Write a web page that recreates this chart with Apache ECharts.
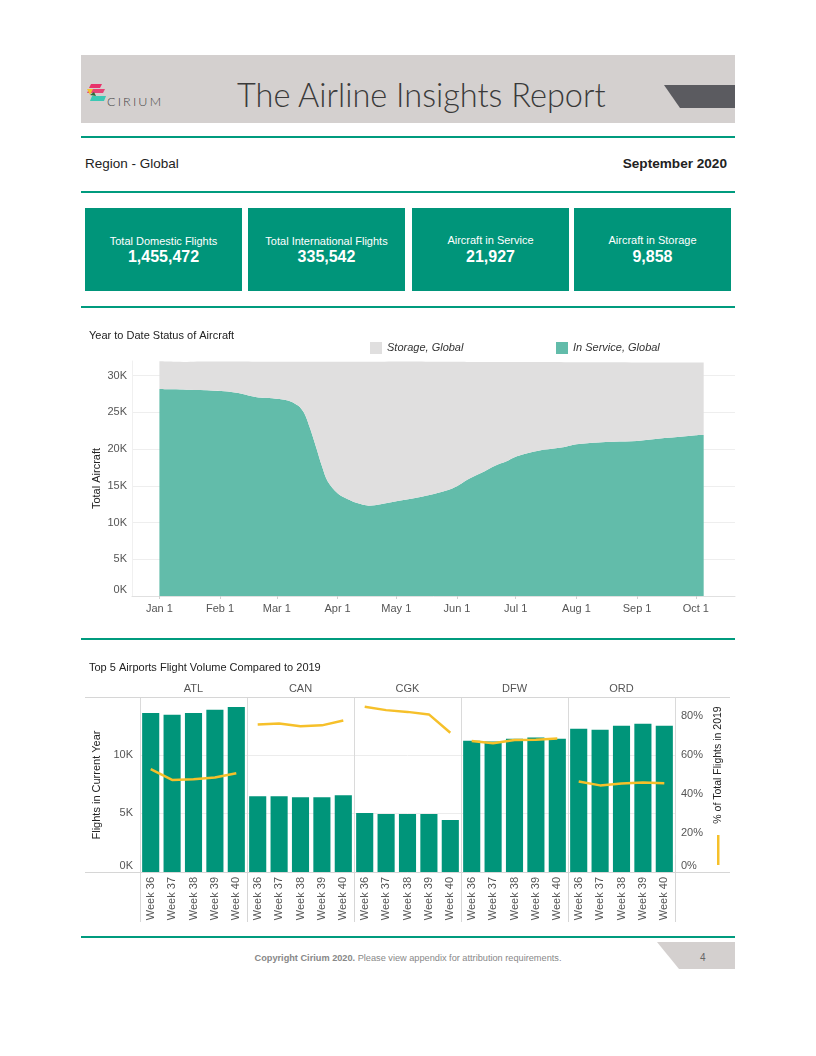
<!DOCTYPE html>
<html><head><meta charset="utf-8">
<script src="https://cdn.jsdelivr.net/npm/echarts@6/dist/echarts.min.js"></script>
<style>
body{margin:0;width:816px;height:1056px;position:relative;background:#fff;font-family:'Liberation Sans',Arial,sans-serif;overflow:hidden}
.abs{position:absolute}
.rule{position:absolute;left:81px;width:654px;height:2px;background:#009b7e}
.kpi{position:absolute;top:208px;height:83px;width:157px;background:#00957a;color:#fff;text-align:center}
.kpi .l{position:absolute;top:27px;left:0;right:0;font-size:11px}
.kpi .v{position:absolute;top:40px;left:0;right:0;font-size:16px;font-weight:bold}
</style></head><body>
<div class="abs" style="left:81px;top:55px;width:654px;height:68px;background:#d4d0cf"></div>
<svg class="abs" style="left:86px;top:83px" width="22" height="20" viewBox="0 0 22 20">
  <polygon points="5,1 16,1 14,5 3,5" fill="#e8336b"/>
  <polygon points="3,6 19,6 17,10 1,10" fill="#e8336b" opacity="0.9"/>
  <polygon points="1,6 7,6 4,12" fill="#f5c12e"/>
  <polygon points="4,12 8,9 10,13" fill="#2f6b3a"/>
  <polygon points="6,13 20,13 18,18 4,18" fill="#3cc8b4"/>
</svg>
<div class="abs" style="left:107px;top:94px;font-family:Lato,sans-serif;font-weight:300;font-size:12.5px;letter-spacing:2.2px;color:#444">CIRIUM</div>
<div class="abs" style="left:237px;top:75px;font-family:Lato,'Open Sans',sans-serif;font-weight:300;font-size:32.5px;color:#3a3a3a;white-space:nowrap">The Airline Insights Report</div>
<svg class="abs" style="left:664px;top:85px" width="71" height="23"><polygon points="0,0 71,0 71,23 16,23" fill="#5b5b60"/></svg>
<div class="rule" style="top:136px"></div>
<div class="abs" style="left:85px;top:156px;font-size:13.5px;color:#222">Region - Global</div>
<div class="abs" style="right:89px;top:156px;font-size:13.6px;font-weight:bold;color:#222">September 2020</div>
<div class="rule" style="top:191px"></div>
<div class="kpi" style="left:85px"><div class="l">Total Domestic Flights</div><div class="v">1,455,472</div></div>
<div class="kpi" style="left:248px"><div class="l">Total International Flights</div><div class="v">335,542</div></div>
<div class="kpi" style="left:412px"><div class="l" style="top:26px">Aircraft in Service</div><div class="v">21,927</div></div>
<div class="kpi" style="left:574px"><div class="l" style="top:26px">Aircraft in Storage</div><div class="v">9,858</div></div>
<div class="rule" style="top:306px"></div>
<div id="c1" class="abs" style="left:80px;top:320px;width:660px;height:305px"></div>
<div class="rule" style="top:638px"></div>
<div id="c2" class="abs" style="left:80px;top:655px;width:660px;height:275px"></div>
<div class="rule" style="top:936px"></div>
<div class="abs" style="left:0;width:816px;top:953px;text-align:center;font-size:9.2px;color:#888"><b>Copyright Cirium 2020.</b> Please view appendix for attribution requirements.</div>
<svg class="abs" style="left:657px;top:942px" width="78" height="27"><polygon points="0,0 78,0 78,27 22,27" fill="#d4d0cf"/></svg>
<div class="abs" style="left:700px;top:952px;font-size:10px;color:#666">4</div>
<script>
// ---- Chart 1 data: Year to Date Status of Aircraft ----
const statusDates = ['2020-01-01','2020-01-08','2020-01-15','2020-01-22','2020-01-29','2020-02-05','2020-02-12','2020-02-19','2020-02-26','2020-03-04','2020-03-08','2020-03-12','2020-03-15','2020-03-18','2020-03-21','2020-03-24','2020-03-27','2020-04-01','2020-04-06','2020-04-11','2020-04-17','2020-04-23','2020-05-01','2020-05-10','2020-05-18','2020-05-27','2020-06-01','2020-06-06','2020-06-13','2020-06-21','2020-06-26','2020-07-01','2020-07-05','2020-07-15','2020-07-26','2020-08-01','2020-08-12','2020-08-20','2020-09-01','2020-09-15','2020-10-01','2020-10-05'];
const inService = [28200,28150,28100,28050,27950,27850,27550,27100,26950,26750,26500,25900,24900,22800,20300,17700,15600,14000,13200,12650,12300,12500,12900,13300,13750,14400,14950,15800,16700,17800,18300,18950,19300,19900,20300,20650,20900,21000,21100,21500,21900,21927];
const storage = [3750,3750,3780,3870,3980,4080,4370,4800,4950,5150,5400,6000,7000,9100,11600,14200,16300,17900,18700,19250,19600,19400,19020,18620,18150,17500,16950,16080,15180,14070,13550,12900,12550,11950,11530,11180,10930,10820,10700,10300,9890,9858];
const monthTickLabels = ['Jan 1','Feb 1','Mar 1','Apr 1','May 1','Jun 1','Jul 1','Aug 1','Sep 1','Oct 1','Nov 1','Dec 1'];

// ---- Chart 2 data: Top 5 Airports ----
const airports = ['ATL','CAN','CGK','DFW','ORD'];
const weeks = ['Week 36','Week 37','Week 38','Week 39','Week 40'];
const flightsATL = [13580,13420,13580,13840,14090];
const flightsCAN = [6470,6470,6380,6380,6550];
const flightsCGK = [5030,4940,4940,4940,4430];
const flightsDFW = [11210,11130,11380,11470,11380];
const flightsORD = [12230,12140,12480,12650,12480];
const pctATL = [52.6,47.1,47.5,48.3,50.5];
const pctCAN = [75.5,76.0,74.6,75.0,77.5];
const pctCGK = [84.5,82.8,81.9,80.6,71.2];
const pctDFW = [67.0,65.8,67.5,67.7,68.3];
const pctORD = [46.3,44.3,45.3,45.8,45.4];

const FONT = "'Liberation Sans', Arial, sans-serif";
const DAY = 86400000;
const zeroRich = { z: { fontSize: 11, color: '#555', padding: [0, 0, 12, 0], fontFamily: FONT } };

// ---------- Chart 1 ----------
const c1 = echarts.init(document.getElementById('c1'));
c1.setOption({
  animation: false,
  textStyle: { fontFamily: FONT },
  title: { text: 'Year to Date Status of Aircraft', left: 9, top: 10, padding: 0, textStyle: { fontSize: 11, fontWeight: 'normal', color: '#222', fontFamily: FONT } },
  legend: [
    { data: ['Storage, Global'], left: 285, top: 17, icon: 'rect', itemWidth: 12, itemHeight: 12, itemGap: 4, textStyle: { fontSize: 11, fontStyle: 'italic', color: '#333', fontFamily: FONT } },
    { data: ['In Service, Global'], left: 471, top: 17, icon: 'rect', itemWidth: 12, itemHeight: 12, itemGap: 4, textStyle: { fontSize: 11, fontStyle: 'italic', color: '#333', fontFamily: FONT } }
  ],
  grid: { left: 52, right: 5, top: 41, bottom: 29 },
  xAxis: {
    type: 'time', min: '2019-12-18', max: '2020-10-21',
    minInterval: 28 * DAY, maxInterval: 31 * DAY,
    axisLine: { show: true, lineStyle: { color: '#e0e0e0' } },
    axisTick: { show: true, length: 3, lineStyle: { color: '#d0d0d0' } },
    axisLabel: { fontSize: 11, color: '#555', margin: 7, showMinLabel: false, showMaxLabel: false, hideOverlap: false,
      formatter: v => { const d = new Date(v); return d.getDate() === 1 ? monthTickLabels[d.getMonth()] : ''; } },
    splitLine: { show: false }
  },
  yAxis: {
    type: 'value', min: 0, max: 32000, interval: 5000,
    name: 'Total Aircraft', nameLocation: 'middle', nameGap: 30, nameMoveOverlap: false, nameTextStyle: { fontSize: 11, color: '#222', fontFamily: FONT },
    axisLine: { show: true, lineStyle: { color: '#f0f0f0' } },
    axisLabel: { fontSize: 11, color: '#555', margin: 5, showMaxLabel: false, rich: zeroRich, formatter: v => v === 0 ? '{z|0K}' : (v/1000) + 'K' },
    splitLine: { showMaxLine: false, lineStyle: { color: '#eeeeee' } }
  },
  series: [
    { name: 'In Service, Global', type: 'line', stack: 'total', smooth: 0.3, symbol: 'none', lineStyle: { width: 0 }, itemStyle: { color: '#62bcaa' }, areaStyle: { color: '#62bcaa', opacity: 1 }, data: statusDates.map((d, i) => [d, inService[i]]) },
    { name: 'Storage, Global', type: 'line', stack: 'total', smooth: 0.3, symbol: 'none', lineStyle: { width: 0 }, itemStyle: { color: '#e0dfdf' }, areaStyle: { color: '#e0dfdf', opacity: 1 }, data: statusDates.map((d, i) => [d, storage[i]]) }
  ]
});

// ---------- Chart 2 ----------
const c2 = echarts.init(document.getElementById('c2'));
const flightsBy = [flightsATL, flightsCAN, flightsCGK, flightsDFW, flightsORD];
const pctBy = [pctATL, pctCAN, pctCGK, pctDFW, pctORD];
const weekCats = airports.flatMap(() => weeks);
const barData = flightsBy.flat();
const lineSeries = pctBy.map((arr, a) => ({
  name: '% of Total Flights in 2019', type: 'line', xAxisIndex: 0, yAxisIndex: 1,
  symbol: 'none', smooth: false, lineStyle: { width: 2.5, color: '#f6c02a' }, itemStyle: { color: '#f6c02a' },
  data: weekCats.map((w, i) => Math.floor(i / weeks.length) === a ? arr[i % weeks.length] : '-'),
  z: 5
}));
c2.setOption({
  animation: false,
  textStyle: { fontFamily: FONT },
  title: { text: 'Top 5 Airports Flight Volume Compared to 2019', left: 9, top: 7, padding: 0, textStyle: { fontSize: 11, fontWeight: 'normal', color: '#222', fontFamily: FONT } },
  grid: { left: 60, right: 65, top: 43, bottom: 58 },
  xAxis: [
    { type: 'category', data: weekCats, position: 'bottom',
      axisLine: { show: false }, axisTick: { show: false },
      axisLabel: { interval: 0, rotate: 90, fontSize: 11, color: '#555', margin: 5 } },
    { type: 'category', data: airports, position: 'top',
      axisLine: { show: false },
      axisTick: { show: true, interval: 0, length: 17, lineStyle: { color: '#d6d6d6' } },
      axisLabel: { interval: 0, fontSize: 11, color: '#555', margin: 4 },
      splitLine: { show: true, interval: 0, lineStyle: { color: '#dadada' } } },
    { type: 'category', data: airports, position: 'bottom',
      axisLine: { show: false }, axisLabel: { show: false },
      axisTick: { show: true, interval: 0, length: 50, lineStyle: { color: '#d6d6d6' } } }
  ],
  yAxis: [
    { type: 'value', min: 0, max: 14850, interval: 5000,
      name: 'Flights in Current Year', nameLocation: 'middle', nameGap: 35, nameTextStyle: { fontSize: 11, color: '#222', fontFamily: FONT },
      axisLine: { show: false }, axisTick: { show: false },
      axisLabel: { fontSize: 11, color: '#555', margin: 7, showMaxLabel: false, rich: zeroRich, formatter: v => v === 0 ? '{z|0K}' : (v/1000) + 'K' },
      splitLine: { showMaxLine: false, lineStyle: { color: '#ececec' } } },
    { type: 'value', min: 0, max: 89, interval: 20, position: 'right',
      axisLine: { show: false }, axisTick: { show: false },
      axisLabel: { fontSize: 11, color: '#555', margin: 6, showMaxLabel: false, rich: zeroRich, formatter: v => v === 0 ? '{z|0%}' : v + '%' },
      splitLine: { show: false } }
  ],
  graphic: [
    { type: 'line', shape: { x1: 5, y1: 42.5, x2: 650, y2: 42.5 }, style: { stroke: '#d6d6d6', lineWidth: 1 }, z: 10 },
    { type: 'line', shape: { x1: 5, y1: 217.5, x2: 650, y2: 217.5 }, style: { stroke: '#d6d6d6', lineWidth: 1 }, z: 10 },
    { type: 'text', x: 638, y: 110, rotation: Math.PI / 2, style: { text: '% of Total Flights in 2019', fontSize: 10.5, fill: '#222', align: 'center', verticalAlign: 'middle', fontFamily: FONT } },
    { type: 'rect', shape: { x: 637, y: 180, width: 2.5, height: 30 }, style: { fill: '#f6c02a' } }
  ],
  series: [
    { name: 'Flights in Current Year', type: 'bar', xAxisIndex: 0, yAxisIndex: 0, data: barData, barCategoryGap: '20%', itemStyle: { color: '#00957a' } },
    ...lineSeries
  ]
});
</script>
</body></html>
